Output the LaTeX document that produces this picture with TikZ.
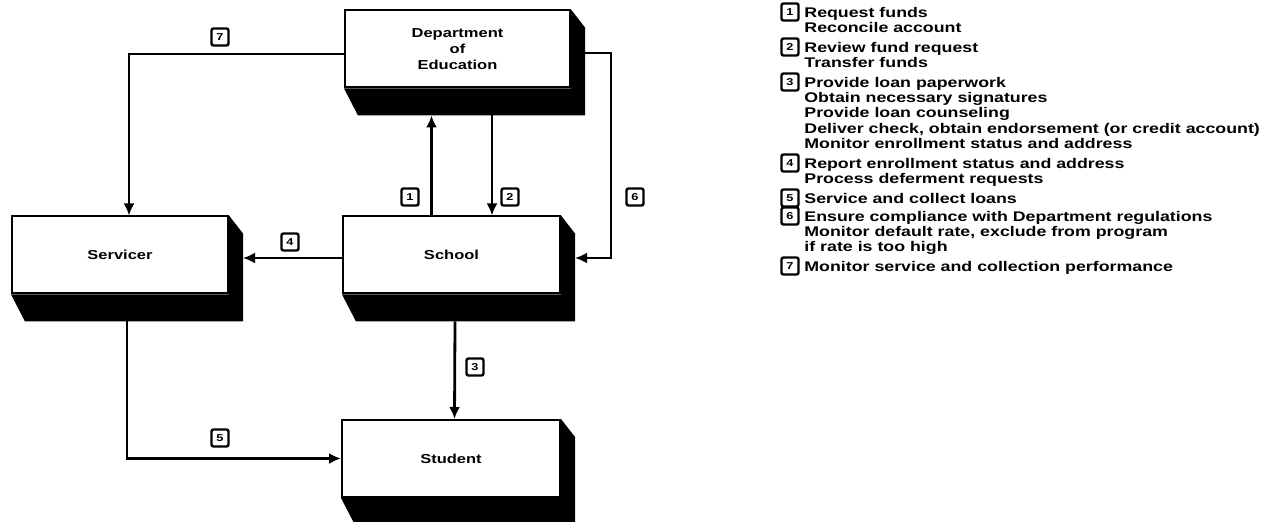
\documentclass[tikz,border=0pt]{standalone}
\usepackage{fontspec}
\setmainfont{Liberation Sans}
\newfontfamily\scanfont[FakeStretch=1.27]{Liberation Sans}
\usetikzlibrary{calc,positioning,arrows.meta}
\tikzstyle{party}  = [draw=black, line width=1pt, fill=white, minimum height=38.5pt, inner sep=0pt, align=center, font=\scanfont\bfseries\fontsize{6.5}{8}\selectfont]
\tikzstyle{numbox} = [draw=black, line width=1.2pt, rounded corners=1pt, fill=white, minimum size=8.5pt, inner sep=0pt, font=\scanfont\bfseries\fontsize{5}{5}\selectfont]
\tikzstyle{legend} = [anchor=north west, inner sep=0pt, align=left, font=\scanfont\bfseries\fontsize{7}{7.6}\selectfont]
\tikzstyle{arrow}  = [line width=1.4pt, -{Latex[length=6pt,width=5.5pt]}]
\newcommand{\boxshadow}[1]{\fill (#1.north east) -- ++(14,18) -- ($(#1.south east)+(14,27)$) -- ($(#1.south west)+(14,27)$) -- (#1.south west) -- (#1.south east) -- cycle;}

\begin{document}
\begin{tikzpicture}[x=0.5pt,y=-0.5pt]
        \useasboundingbox (0,0) rectangle (1268,522);

        % the four parties
        \node[party, minimum width=112.5pt] (dept) at (457.5,49) {Department\\of\\Education};
        \node[party, minimum width=108pt] (servicer) at (120,255) {Servicer};
        \node[party, minimum width=108.5pt] (school) at (451.5,255) {School};
        \node[party, minimum width=109pt] (student) at (451,458.5) {Student};
        \boxshadow{dept}
        \boxshadow{servicer}
        \boxshadow{school}
        \boxshadow{student}

        % flows
        \draw[arrow] ($(dept.west)+(0,5)$) -| ($(servicer.north)+(9,0)$);
        \draw[arrow] ($(school.north)+(-20,0)$) -- ($(dept.south)+(-26,27)$);
        \draw[arrow] ($(dept.south)+(34.5,27)$) -- ($(school.north)+(40.5,0)$);
        \draw[arrow] ($(dept.east)+(0,4)$) -- ++(40,0) |- ($(school.east)+(14,3)$);
        \draw[arrow] ($(school.west)+(0,3)$) -- ($(servicer.east)+(14,3)$);
        \draw[arrow] ($(school.south)+(3.5,27)$) -- ($(student.north)+(3.5,0)$);
        \draw[arrow] ($(servicer.south)+(7,27)$) |- (student.west);

        \node[numbox] (f7) at (220,37) {7};
        \node[numbox] (f1) at (410,197) {1};
        \node[numbox] (f2) at (510,197) {2};
        \node[numbox] (f6) at (635,197) {6};
        \node[numbox] (f4) at (290,242) {4};
        \node[numbox] (f3) at (475,367) {3};
        \node[numbox] (f5) at (220,438) {5};

        % key
        \node[numbox] (k1) at (790,12) {1};
        \node[legend] (t1) at (804,7) {Request funds\\Reconcile account};
        \node[numbox] (k2) at (790,47) {2};
        \node[legend] (t2) at (804,42) {Review fund request\\Transfer funds};
        \node[numbox] (k3) at (790,82) {3};
        \node[legend] (t3) at (804,77) {Provide loan paperwork\\Obtain necessary signatures\\Provide loan counseling\\Deliver check, obtain endorsement (or credit account)\\Monitor enrollment status and address};
        \node[numbox] (k4) at (790,163) {4};
        \node[legend] (t4) at (804,158) {Report enrollment status and address\\Process deferment requests};
        \node[numbox] (k5) at (790,198) {5};
        \node[legend] (t5) at (804,193) {Service and collect loans};
        \node[numbox] (k6) at (790,216) {6};
        \node[legend] (t6) at (804,211) {Ensure compliance with Department regulations\\Monitor default rate, exclude from program\\if rate is too high};
        \node[numbox] (k7) at (790,266) {7};
        \node[legend] (t7) at (804,261) {Monitor service and collection performance};
    \end{tikzpicture}
\end{document}
